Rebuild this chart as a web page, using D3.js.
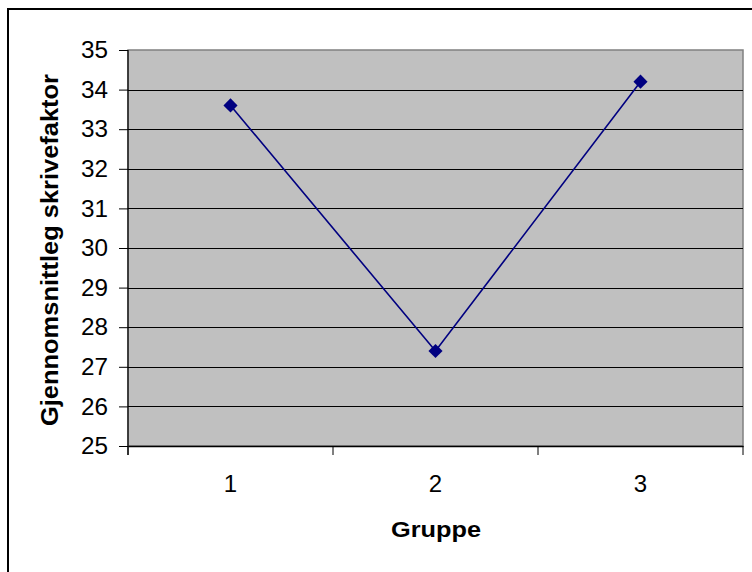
<!DOCTYPE html>
<html><head><meta charset="utf-8">
<script src="https://cdn.jsdelivr.net/npm/d3@7"></script>
<style>html,body{margin:0;padding:0;background:#fff;}svg{display:block;}</style>
</head><body>
<svg id="c" width="752" height="572"></svg>
<script>
const categories = ["1", "2", "3"];
const values = [33.6, 27.4, 34.2];
const yTicks = [25, 26, 27, 28, 29, 30, 31, 32, 33, 34, 35];
const xTitle = "Gruppe";
const yTitle = "Gjennomsnittleg skrivefaktor";

const svg = d3.select("#c");
const L = 128, R = 743, T = 50, B = 446;
const font = "Arial, 'Liberation Sans', sans-serif";

// outer border
svg.append("rect").attr("x", 8).attr("y", 9).attr("width", 800).attr("height", 700)
  .attr("fill", "#fff").attr("stroke", "#000").attr("stroke-width", 2);

const x = d3.scaleBand().domain(categories).range([L, R]);
const y = d3.scaleLinear().domain([25, 35]).range([B, T]);

// plot area
svg.append("rect").attr("x", L).attr("y", T).attr("width", R - L).attr("height", B - T)
  .attr("fill", "#c0c0c0").attr("stroke", "#808080").attr("stroke-width", 1.5);

// gridlines
svg.append("g").selectAll("line").data(yTicks.filter(v => v > 25 && v < 35)).join("line")
  .attr("x1", L).attr("x2", R).attr("y1", d => Math.round(y(d)) + 0.5).attr("y2", d => Math.round(y(d)) + 0.5)
  .attr("stroke", "#000").attr("stroke-width", 1);

// y axis
const yAxis = svg.append("g").attr("transform", `translate(${L},0)`)
  .call(d3.axisLeft(y).tickValues(yTicks).tickSize(9).tickPadding(11).tickFormat(d3.format("d")));
yAxis.attr("font-size", null).attr("font-family", null);
yAxis.select(".domain").attr("stroke", "#000").attr("stroke-width", 1.2)
  .attr("d", `M0,${T}V${B + 9}`);
yAxis.selectAll(".tick line").attr("stroke", "#000");
yAxis.selectAll("text").attr("font-family", font).style("font-size", "24px").attr("fill", "#000")
  .attr("textLength", 27).attr("lengthAdjust", "spacingAndGlyphs");

// x axis
const xAxis = svg.append("g").attr("transform", `translate(0,${B})`)
  .call(d3.axisBottom(x).tickSize(0).tickPadding(29));
xAxis.attr("font-size", null).attr("font-family", null);
xAxis.select(".domain").attr("stroke", "#000").attr("stroke-width", 1.5);
xAxis.selectAll("text").attr("font-family", font).style("font-size", "24px").attr("fill", "#000");
// boundary ticks
const bounds = categories.map(c => x(c)).concat([R]);
svg.append("g").selectAll("line").data(bounds).join("line")
  .attr("x1", d => d).attr("x2", d => d).attr("y1", B).attr("y2", B + 9)
  .attr("stroke", "#000").attr("stroke-width", 1);

// line
const cx = c => x(c) + x.bandwidth() / 2;
const line = d3.line().x((d, i) => cx(categories[i])).y(d => y(d));
svg.append("path").datum(values).attr("d", line).attr("fill", "none")
  .attr("stroke", "#000080").attr("stroke-width", 1.6);

// markers
svg.append("g").selectAll("path").data(values).join("path")
  .attr("d", d3.symbol(d3.symbolSquare, 100)())
  .attr("transform", (d, i) => `translate(${cx(categories[i])},${y(d)}) rotate(45)`)
  .attr("fill", "#000080");

// titles
svg.append("text").attr("x", 436).attr("y", 537).attr("text-anchor", "middle")
  .attr("font-family", font).attr("font-weight", "bold").style("font-size", "22px")
  .attr("textLength", 90).attr("lengthAdjust", "spacingAndGlyphs").text(xTitle);
svg.append("text").attr("transform", "translate(58,250) rotate(-90)").attr("text-anchor", "middle")
  .attr("font-family", font).attr("font-weight", "bold").style("font-size", "23px")
  .attr("textLength", 352).attr("lengthAdjust", "spacingAndGlyphs").text(yTitle);
</script>
</body></html>
